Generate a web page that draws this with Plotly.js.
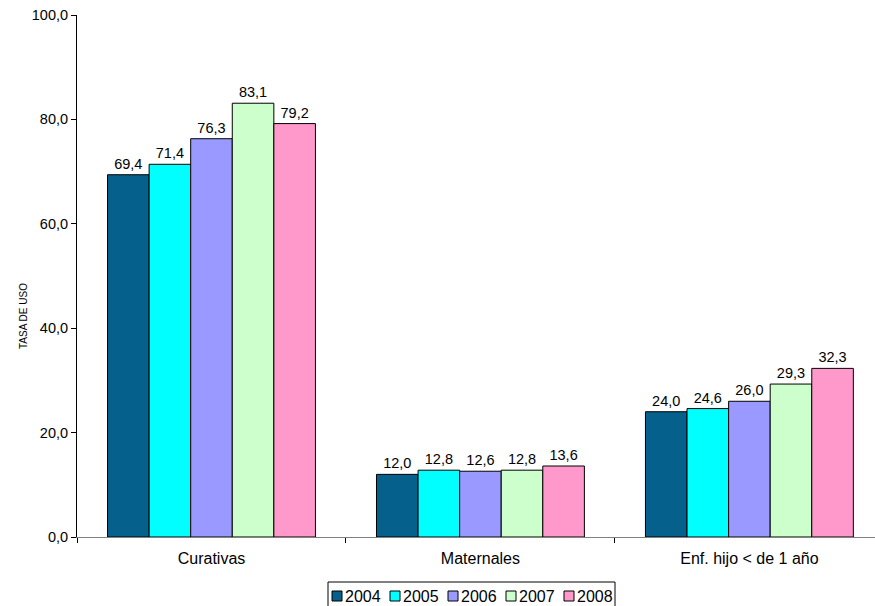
<!DOCTYPE html>
<html>
<head>
<meta charset="utf-8">
<script src="https://cdn.plot.ly/plotly-3.0.1.min.js"></script>
<style>html,body{margin:0;padding:0;background:#fff}#chart{width:875px;height:606px}</style>
</head>
<body>
<div id="chart"></div>
<script>
const categories = ["Curativas", "Maternales", "Enf. hijo < de 1 año"];
const years = ["2004", "2005", "2006", "2007", "2008"];
const v2004 = [69.4, 12.0, 24.0];
const v2005 = [71.4, 12.8, 24.6];
const v2006 = [76.3, 12.6, 26.0];
const v2007 = [83.1, 12.8, 29.3];
const v2008 = [79.2, 13.6, 32.3];
const series = [v2004, v2005, v2006, v2007, v2008];
const colors = ["#05608C", "#00FFFF", "#9999FF", "#CCFFCC", "#FF99CC"];
const yTitle = "TASA DE USO";

const font = "Liberation Sans, Arial, sans-serif";
const W = 875, H = 606, ML = 77, MR = 0, MT = 15, MB = 69;
const PW = W - ML - MR, PH = H - MT - MB;
const px = x => (x - ML) / PW;
const py = y => (H - MB - y) / PH;

const traces = series.map((vals, i) => ({
  type: "bar",
  name: years[i],
  x: categories,
  y: vals,
  marker: {color: colors[i], line: {color: "#000", width: 1}},
  text: vals.map(v => v.toFixed(1).replace(".", ",")),
  textposition: "outside",
  textfont: {family: font, size: 14.5, color: "#000"},
  cliponaxis: false,
  hoverinfo: "none",
  showlegend: false
}));

// Legend (drawn as layout shapes + annotations, in pixel-derived paper coords)
const shapes = [{
  type: "rect", xref: "paper", yref: "paper",
  x0: px(328), x1: px(615), y0: py(582), y1: py(612),
  line: {color: "#000", width: 1}, fillcolor: "rgba(0,0,0,0)", layer: "above"
}];
const annotations = [{
  text: yTitle, xref: "paper", yref: "paper", x: px(23), y: py(316),
  xanchor: "center", yanchor: "middle", textangle: -90, showarrow: false,
  font: {family: font, size: 10, color: "#000"}
}];
years.forEach((yr, i) => {
  const sx = 332 + i * 58;
  shapes.push({
    type: "rect", xref: "paper", yref: "paper",
    x0: px(sx), x1: px(sx + 10), y0: py(591), y1: py(601),
    line: {color: "#000", width: 1}, fillcolor: colors[i], layer: "above"
  });
  annotations.push({
    text: yr, xref: "paper", yref: "paper", x: px(sx + 12), y: py(596),
    xanchor: "left", yanchor: "middle", showarrow: false, borderpad: 0,
    font: {family: font, size: 16, color: "#000"}
  });
});

const layout = {
  width: W, height: H,
  margin: {l: ML, r: MR, t: MT, b: MB, autoexpand: false},
  paper_bgcolor: "#fff", plot_bgcolor: "#fff",
  font: {family: font, size: 13, color: "#000"},
  separators: ",.",
  barmode: "group",
  bargap: 0.227,
  bargroupgap: 0,
  showlegend: false,
  xaxis: {
    type: "category",
    range: [-0.5, 2.467],
    showline: true, linecolor: "#808080", linewidth: 1,
    ticks: "outside", tickson: "boundaries", ticklen: 5, tickcolor: "#000",
    ticklabelstandoff: 7,
    tickfont: {family: font, size: 16, color: "#000"},
    showgrid: false, zeroline: false
  },
  yaxis: {
    range: [0, 100],
    tickvals: [0, 20, 40, 60, 80, 100],
    tickformat: ".1f",
    showline: true, linecolor: "#000", linewidth: 1,
    ticks: "outside", ticklen: 5, tickcolor: "#000",
    tickfont: {family: font, size: 14.5, color: "#000"},
    showgrid: false, zeroline: false
  },
  shapes: shapes,
  annotations: annotations
};

Plotly.newPlot("chart", traces, layout, {displayModeBar: false, staticPlot: true});
</script>
</body>
</html>
